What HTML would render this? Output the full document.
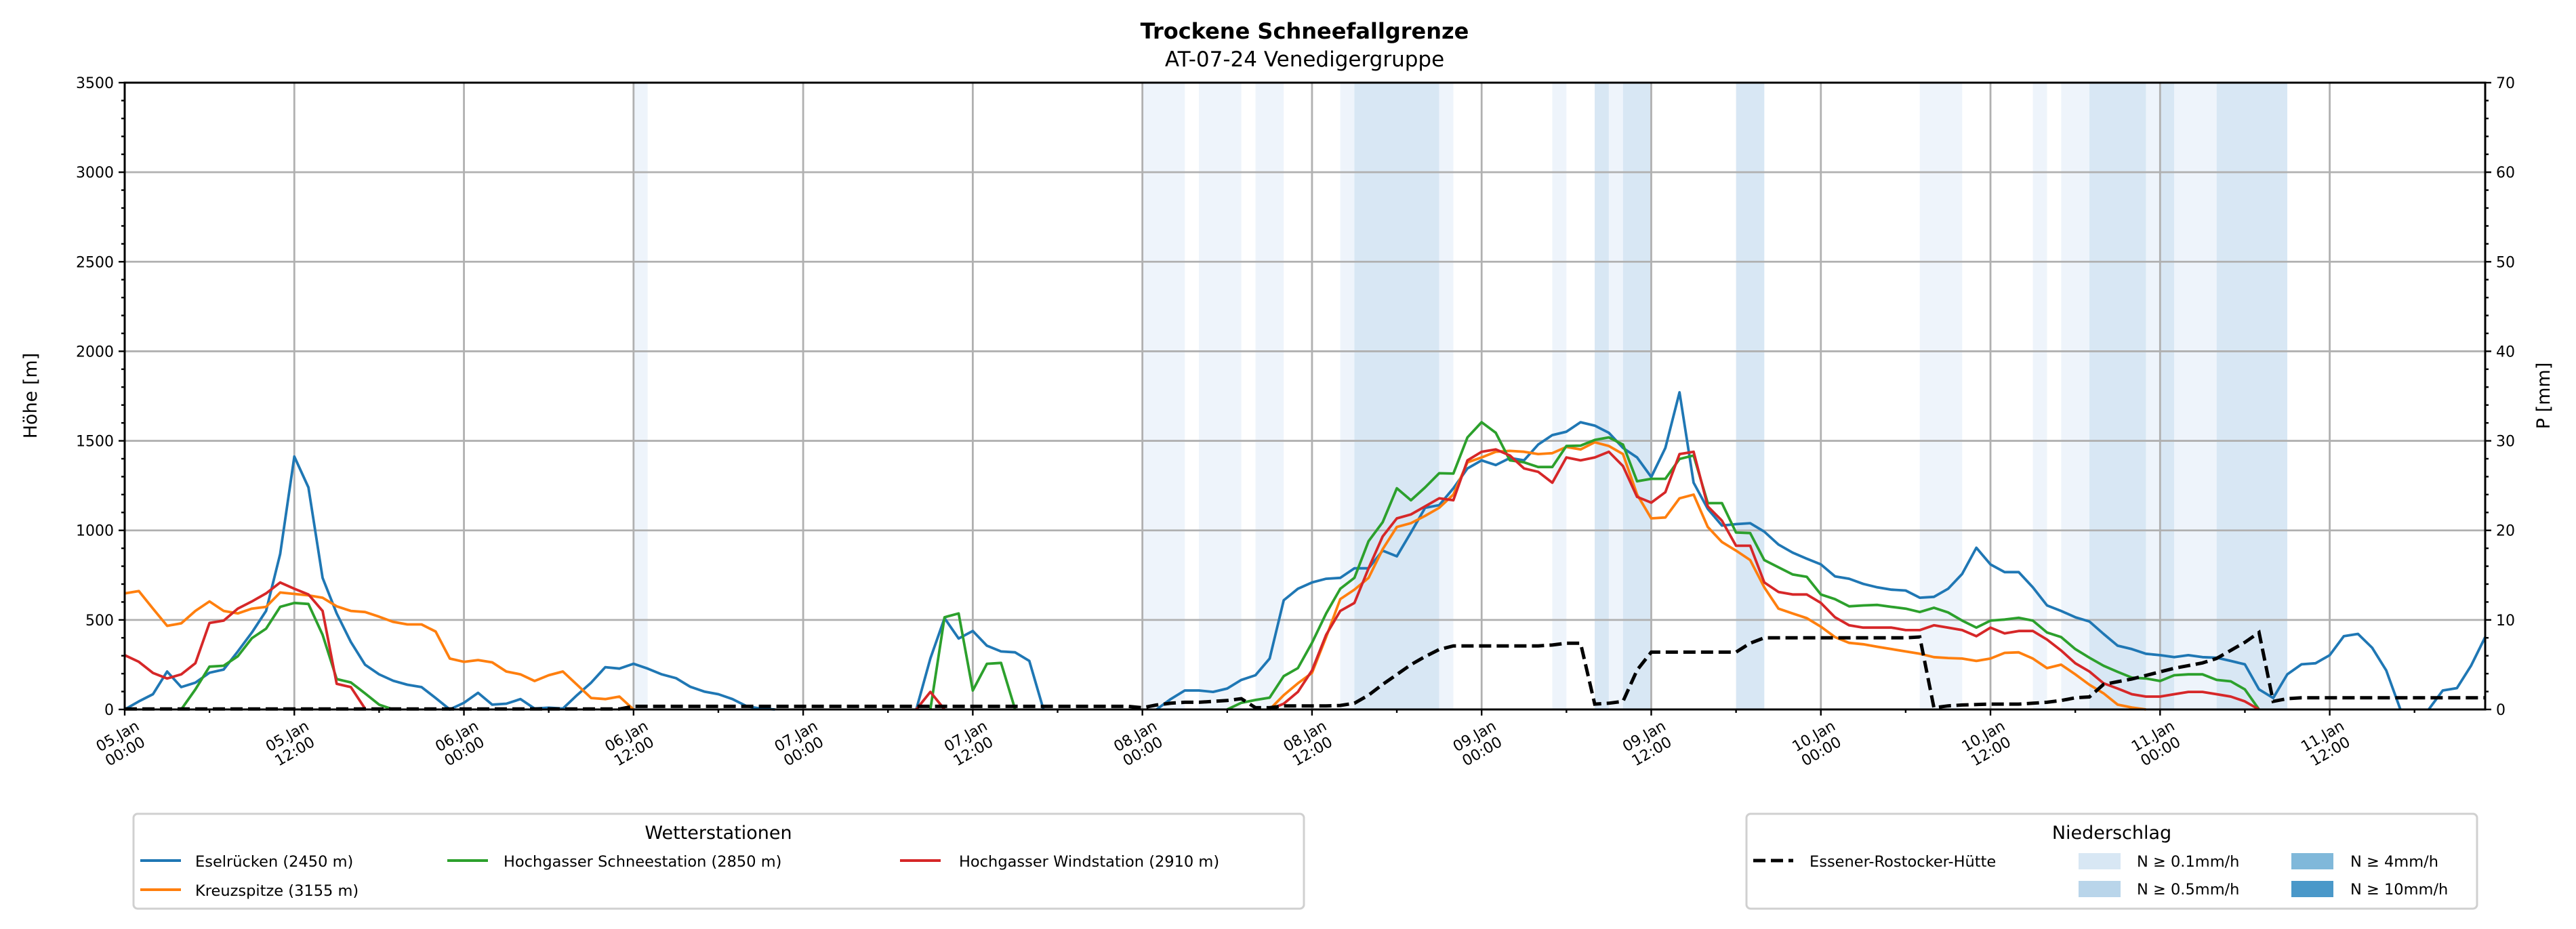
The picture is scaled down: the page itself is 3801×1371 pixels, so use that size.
<!DOCTYPE html>
<html><head><meta charset="utf-8"><style>
html,body{margin:0;padding:0;background:#fff;}
svg{display:block;font-family:"DejaVu Sans","Liberation Sans",sans-serif;}
</style></head><body>
<svg id="chart" width="3801" height="1371" viewBox="0 0 3801 1371" xmlns="http://www.w3.org/2000/svg">
<g id="bands"></g>
<g id="grid"></g>
<g id="series"></g>
<g id="axes"></g>
<text x="1925" y="57" text-anchor="middle" font-size="32" font-weight="bold">Trockene Schneefallgrenze</text>
<text x="1925" y="98" text-anchor="middle" font-size="31">AT-07-24 Venedigergruppe</text>
<text transform="translate(54,584) rotate(-90)" text-anchor="middle" font-size="27">Höhe [m]</text>
<text transform="translate(3762,584) rotate(-90)" text-anchor="middle" font-size="27">P [mm]</text>
<g>
<rect x="197" y="1201" width="1727" height="140" rx="6" fill="#fff" stroke="#d0d0d0" stroke-width="3"/>
<text x="1060" y="1238" text-anchor="middle" font-size="27">Wetterstationen</text>
<line x1="207" y1="1270" x2="267" y2="1270" stroke="#1f77b4" stroke-width="4"/>
<text x="288" y="1279" font-size="22.5">Eselrücken (2450 m)</text>
<line x1="660" y1="1270" x2="720" y2="1270" stroke="#2ca02c" stroke-width="4"/>
<text x="743" y="1279" font-size="22.5">Hochgasser Schneestation (2850 m)</text>
<line x1="1328" y1="1270" x2="1388" y2="1270" stroke="#d62728" stroke-width="4"/>
<text x="1415" y="1279" font-size="22.5">Hochgasser Windstation (2910 m)</text>
<line x1="207" y1="1313" x2="267" y2="1313" stroke="#ff7f0e" stroke-width="4"/>
<text x="288" y="1322" font-size="22.5">Kreuzspitze (3155 m)</text>
</g>
<g>
<rect x="2577" y="1201" width="1078" height="140" rx="6" fill="#fff" stroke="#d0d0d0" stroke-width="3"/>
<text x="3116" y="1238" text-anchor="middle" font-size="27">Niederschlag</text>
<line x1="2587" y1="1270" x2="2646" y2="1270" stroke="#000" stroke-width="5" stroke-dasharray="18,8"/>
<text x="2670" y="1279" font-size="22.5">Essener-Rostocker-Hütte</text>
<rect x="3067" y="1259" width="62" height="24" fill="#d8e7f4"/>
<text x="3153" y="1279" font-size="22.5">N ≥ 0.1mm/h</text>
<rect x="3381" y="1259" width="62" height="24" fill="#80b8da"/>
<text x="3468" y="1279" font-size="22.5">N ≥ 4mm/h</text>
<rect x="3067" y="1300" width="62" height="24" fill="#b9d5ea"/>
<text x="3153" y="1320" font-size="22.5">N ≥ 0.5mm/h</text>
<rect x="3381" y="1300" width="62" height="24" fill="#4a98c9"/>
<text x="3468" y="1320" font-size="22.5">N ≥ 10mm/h</text>
</g>
</svg>
<script>
// ---- data (hourly, hour 0 = 05.Jan 00:00) ----
const blueA = [0,45,85,212,125,150,205,223,324,430, 550,868,1412,1240,735,536,377,250,196,160, 138,125,64,0,37,93,27,32,58,5, 10,5,80,150,236,228,255,228,196,175, 127,100,85,58,18,5,0];
const blueB = [0,285,510,396,438,356,324,319,271,0];
const blueC = [0,58,106,106,98,117,165,191,284,610, 674,709,730,735,788,788,887,855,988,1126, 1141,1235,1346,1391,1365,1404,1391,1479,1532,1551, 1604,1585,1545,1460,1407,1298,1460,1771,1266,1120, 1027,1035,1040,993,921,876,842,810,743,730, 701,682,669,664,624,629,674,757,903,810, 767,767,682,581,550,515,491,422,356,337, 311,303,292,303,292,289,271,252,112,64, 196,252,258,303,409,422,345,218,0];
const blueD = [0,106,119,244,404];
const blueStarts = [0,56,73,163];

const orangeA = [648,661,563,467,481,550,603,550,536,563, 573,653,645,637,624,576,550,544,518,489, 475,475,435,284,266,276,263,212,196,159, 191,212,138,64,58,72,0];
const orangeB = [0, 80,146,204,404,616,669,735,895,1019,1040, 1081,1126,1200,1380,1407,1439,1444,1439,1426,1431, 1466,1452,1492,1471,1426,1200,1067,1072,1179,1200, 1019,935,887,834,682,563,536,510,462,404, 372,364,350,337,324,311,292,287,284,271, 284,316,319,284,231,250,196,138,90,27,11,0];
const orangeStarts = [0,81];

const greenA = [0,112,239,244,297,398,451,573,595,589, 417,170,151,90,27,0];
const greenB = [0,515,536,106,255,260,0];
const greenC = [0, 37,53,66,186,231,372,536,674,735,940, 1046,1235,1168,1240,1319,1317,1519,1604,1545,1391, 1380,1354,1354,1471,1473,1505,1519,1479,1274,1288, 1288,1399,1418,1152,1152,988,985,834,794,754, 741,642,616,576,581,584,573,563,544,568, 542,496,457,496,502,512,496,430,404,337, 289,244,210,178,173,159,191,196,196,165,157,112,0];
const greenStarts = [4,57,78];

const redA = [303,266,204,173,196,258,483,496,563,603, 648,709,674,642,550,143,125,5];
const redB = [0,98,0];
const redC = [0, 32,98,218,417,550,595,788,966,1067,1089, 1134,1179,1168,1391,1439,1452,1418,1346,1327,1266, 1407,1391,1407,1439,1359,1187,1155,1213,1426,1439, 1134,1054,914,914,709,656,642,642,595,515, 470,457,457,457,443,443,470,457,443,409, 457,425,438,438,390,329,258,212,146,117, 85,72,72,85,98,98,85,72,45,0];
const redStarts = [0,56,81];

const precip = [
0.05,0.05,0.05,0.05,0.05,0.05,0.05,0.05,0.05,0.05,0.05,0.05,
0.05,0.05,0.05,0.05,0.05,0.05,0.05,0.05,0.05,0.05,0.05,0.05,
0.05,0.05,0.05,0.05,0.05,0.05,0.05,0.05,0.05,0.05,0.05,0.05,
0.35,0.35,0.35,0.35,0.35,0.35,0.35,0.35,0.35,0.35,0.35,0.35,
0.35,0.35,0.35,0.35,0.35,0.35,0.35,0.35,0.35,0.35,0.35,0.35,
0.35,0.35,0.35,0.35,0.35,0.35,0.35,0.35,0.35,0.35,0.35,0.35,
0.2,0.5,0.7,0.8,0.8,0.9,1.0,1.2,0.2,0.2,0.4,0.4,
0.4,0.4,0.45,0.7,1.6,2.8,3.9,5.0,5.9,6.7,7.1,7.1,
7.1,7.1,7.1,7.1,7.1,7.2,7.4,7.4,0.6,0.7,0.9,4.4,
6.4,6.4,6.4,6.4,6.4,6.4,6.4,7.4,8.0,8.0,8.0,8.0,
8.0,8.0,8.0,8.0,8.0,8.0,8.0,8.1,0.2,0.4,0.5,0.55,
0.6,0.6,0.6,0.7,0.8,1.0,1.3,1.4,2.8,3.1,3.4,3.8,
4.2,4.6,4.9,5.2,5.7,6.6,7.5,8.6,0.9,1.2,1.3,1.3,
1.3,1.3,1.3,1.3,1.3,1.3,1.3,1.3,1.3,1.3,1.3,1.3];

const bandStart = [36,72,76,80,86,87,93,101,104,105,106,114,127,135,137,139,143,144,145,148];
const bandEnd   = [37,75,79,82,87,93,94,102,105,106,108,116,130,136,139,143,144,145,148,153];
const bandLevel = [1,1,1,1,1,2,1,1,2,1,2,2,1,1,1,2,1,2,1,2];

const yTicks = [0,500,1000,1500,2000,2500,3000,3500];
const y2Ticks = [0,10,20,30,40,50,60,70];
const xDays = ["05","05","06","06","07","07","08","08","09","09","10","10","11","11"];
const xTimes = ["00:00","12:00","00:00","12:00","00:00","12:00","00:00","12:00","00:00","12:00","00:00","12:00","00:00","12:00"];

// ---- scales ----
const L=184,R=3667,T=122,B=1047,HMAX=167;
const X=h=>L+h*(R-L)/HMAX;
const Y=v=>B-v/3500*(B-T);
const Y2=p=>B-p/70*(B-T);
const NS="http://www.w3.org/2000/svg";
function mk(tag,parent){const e=document.createElementNS(NS,tag);parent.appendChild(e);return e;}

const bandsG=document.getElementById('bands'), gridG=document.getElementById('grid'),
 seriesG=document.getElementById('series'), axesG=document.getElementById('axes');
const bandColors={1:"#eef4fb",2:"#d8e7f4",3:"#80b8da",4:"#4a98c9"};
bandStart.forEach((s,i)=>{
  const r=mk('rect',bandsG);
  r.setAttribute('x',X(s));r.setAttribute('y',T);
  r.setAttribute('width',X(bandEnd[i])-X(s));r.setAttribute('height',B-T);
  r.setAttribute('fill',bandColors[bandLevel[i]]);
  
  
});
// grid
yTicks.forEach(v=>{
  const l=mk('line',gridG);l.setAttribute('x1',L);l.setAttribute('x2',R);l.setAttribute('y1',Y(v));l.setAttribute('y2',Y(v));
  l.setAttribute('stroke','#b0b0b0');l.setAttribute('stroke-width','2.8');
  
  
});
xTimes.forEach((t,i)=>{
  const l=mk('line',gridG);l.setAttribute('x1',X(i*12));l.setAttribute('x2',X(i*12));l.setAttribute('y1',T);l.setAttribute('y2',B);
  l.setAttribute('stroke','#b0b0b0');l.setAttribute('stroke-width','2.8');
  
  
});
// series
function drawSeg(vals,start,color,name){
  const pts=vals.map((v,i)=>X(start+i).toFixed(1)+','+Y(v).toFixed(1)).join(' ');
  const p=mk('polyline',seriesG);p.setAttribute('points',pts);p.setAttribute('fill','none');
  p.setAttribute('stroke',color);p.setAttribute('stroke-width','3.8');p.setAttribute('stroke-linejoin','round');
  
  
}
[blueA,blueB,blueC,blueD].forEach((a,i)=>drawSeg(a,blueStarts[i],'#1f77b4','eselruecken-line'));
[orangeA,orangeB].forEach((a,i)=>drawSeg(a,orangeStarts[i],'#ff7f0e','kreuzspitze-line'));
[greenA,greenB,greenC].forEach((a,i)=>drawSeg(a,greenStarts[i],'#2ca02c','schneestation-line'));
[redA,redB,redC].forEach((a,i)=>drawSeg(a,redStarts[i],'#d62728','windstation-line'));
{
  const pts=precip.map((p,i)=>X(i).toFixed(1)+','+Y2(p).toFixed(1)).join(' ');
  const pl=mk('polyline',seriesG);pl.setAttribute('points',pts);pl.setAttribute('fill','none');
  pl.setAttribute('stroke','#000');pl.setAttribute('stroke-width','5');pl.setAttribute('stroke-dasharray','18,8');
  
  
}
// axes frame
const fr=mk('rect',axesG);fr.setAttribute('x',L);fr.setAttribute('y',T);fr.setAttribute('width',R-L);fr.setAttribute('height',B-T);
fr.setAttribute('fill','none');fr.setAttribute('stroke','#000');fr.setAttribute('stroke-width','3');


function tick(x1,y1,x2,y2){const l=mk('line',axesG);l.setAttribute('x1',x1);l.setAttribute('y1',y1);l.setAttribute('x2',x2);l.setAttribute('y2',y2);l.setAttribute('stroke','#000');l.setAttribute('stroke-width','2.4');
  
  }
for(let v=0;v<=3500;v+=100){tick(L,Y(v),L-(v%500===0?9:5),Y(v));}
for(let p=0;p<=70;p+=2){tick(R,Y2(p),R+(p%10===0?9:5),Y2(p));}
for(let h=0;h<=HMAX;h+=6){tick(X(h),B,X(h),B+(h%12===0?9:5));}
yTicks.forEach(v=>{
  const t=mk('text',axesG);t.setAttribute('x',L-16);t.setAttribute('y',Y(v)+8);t.setAttribute('text-anchor','end');t.setAttribute('font-size','22');t.textContent=v;
  
  
});
y2Ticks.forEach(v=>{
  const t=mk('text',axesG);t.setAttribute('x',R+16);t.setAttribute('y',Y2(v)+8);t.setAttribute('font-size','22');t.textContent=v;
  
  
});
xTimes.forEach((tm,i)=>{
  const g=mk('g',axesG);g.setAttribute('transform','translate('+(X(i*12)+14)+',1060) rotate(-30)');
  
  
  const a=mk('text',g);a.setAttribute('x',0);a.setAttribute('y',18);a.setAttribute('text-anchor','end');a.setAttribute('font-size','22');a.textContent=xDays[i]+'.Jan';
  const b=mk('text',g);b.setAttribute('x',-36);b.setAttribute('y',43);b.setAttribute('text-anchor','middle');b.setAttribute('font-size','22');b.textContent=tm;
});
</script>
</body></html>
